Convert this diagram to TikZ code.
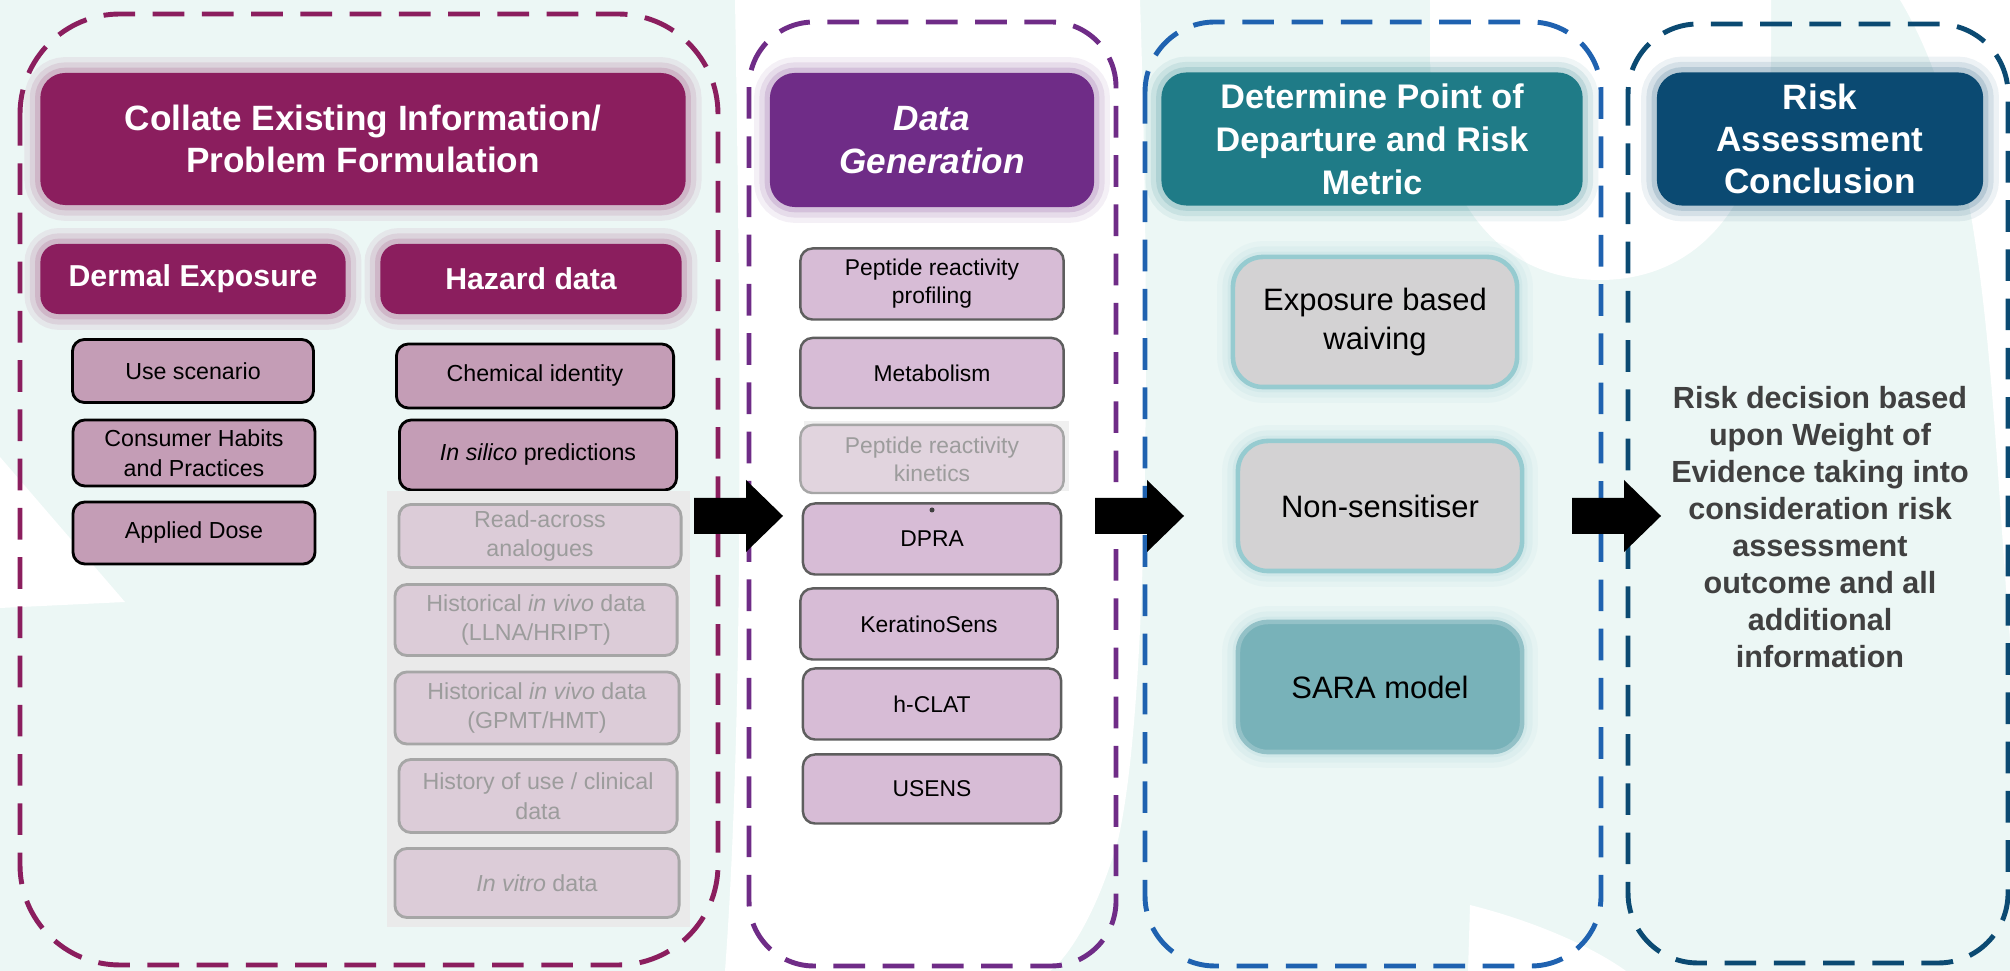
\documentclass[tikz,border=0pt]{standalone}
\usepackage{fontspec}
\setmainfont{Liberation Sans}
\usetikzlibrary{shapes,arrows}
\usetikzlibrary{calc}
\definecolor{mint}{HTML}{ECF7F5}
\definecolor{collate}{HTML}{8B1E5E}
\definecolor{datagen}{HTML}{6F2C87}
\definecolor{podteal}{HTML}{1F7B87}
\definecolor{podblue}{HTML}{1F62B0}
\definecolor{conclude}{HTML}{0B4A72}
\definecolor{itempink}{HTML}{C49DB6}
\definecolor{fadepink}{HTML}{DCCCD8}
\definecolor{fadegrey}{HTML}{A6A6A6}
\definecolor{fadetext}{HTML}{9C9C9C}
\definecolor{assaypink}{HTML}{D7BCD6}
\definecolor{assaygrey}{HTML}{5E5E5E}
\definecolor{metricgrey}{HTML}{D3D2D3}
\definecolor{metricrim}{HTML}{96CBD0}
\definecolor{saragreen}{HTML}{78B2B9}
\definecolor{darktext}{HTML}{404040}
\definecolor{panelgrey}{HTML}{EAEAEA}

\begin{document}
\begin{tikzpicture}[x=0.01cm,y=-0.01cm,
  panel/.style={rounded corners=#1,line width=1.4pt,dash pattern=on 9pt off 5pt},
  header/.style={rectangle,rounded corners=2.5mm,inner sep=0pt,align=center,text=white,
    font=\bfseries\fontsize{10}{12}\selectfont},
  glow/.style={preaction={draw=#1,draw opacity=0.07,line width=9pt},
    preaction={draw=#1,draw opacity=0.1,line width=6pt},
    preaction={draw=#1,draw opacity=0.15,line width=3pt}},
  subheader/.style={header,rounded corners=1.8mm,font=\bfseries\fontsize{8.6}{10}\selectfont},
  item/.style={rectangle,rounded corners=1.2mm,draw=black,line width=0.8pt,fill=itempink,
    inner sep=0pt,align=center,font=\fontsize{6.6}{8.4}\selectfont},
  faded/.style={item,draw=fadegrey,fill=fadepink,text=fadetext},
  assay/.style={item,draw=assaygrey,line width=0.7pt,fill=assaypink,
    font=\fontsize{6.5}{8}\selectfont},
  metric/.style={rectangle,rounded corners=3mm,inner sep=0pt,align=center,fill=metricgrey,
    draw=metricrim,line width=1.3pt,glow=metricrim,font=\fontsize{8.8}{11}\selectfont},
  ]
    \useasboundingbox (0,0) rectangle (2010,971);
    % Background
    \fill[mint] (0,0) rectangle (2010,971);
    \fill[white] (735,0) -- (1140,0) .. controls (1150,300) and (1150,700) .. (1118,840)
      .. controls (1095,920) and (1065,960) .. (1050,971) -- (725,971)
      .. controls (745,700) and (740,300) .. (735,0) -- cycle;
    \fill[white] (0,457) -- (125,602) -- (0,608) -- cycle;
    \fill[white] (1430,0) -- (1771,0) -- (1771,50) .. controls (1771,200) and (1700,280) .. (1600,280)
      .. controls (1500,280) and (1430,200) .. (1430,50) -- cycle;
    \fill[white] (1900,0) -- (2010,0) -- (2010,640) .. controls (1990,400) and (1990,150) .. (1900,0);
    \fill[white] (1470,905) .. controls (1530,920) and (1590,945) .. (1626,971) -- (1468,971) -- cycle;
    % Panels
    \draw[panel=1.0cm,draw=collate] (20,14) rectangle (718,965);
    \draw[panel=0.65cm,draw=datagen] (749,22) rectangle (1116,966);
    \draw[panel=0.7cm,draw=podblue] (1145,22) rectangle (1601,966);
    \draw[panel=0.7cm,draw=conclude] (1628,24) rectangle (2008,963);
    % Collate existing information
    \node[header,fill=collate,glow=collate,minimum width=6.45cm,minimum height=1.32cm]
      (collate) at (363,139) {Collate Existing Information/\\Problem Formulation};
    \node[subheader,fill=collate,glow=collate,minimum width=3.05cm,minimum height=0.7cm]
      (dermal) at (193,279) {Dermal Exposure};
    \node[subheader,fill=collate,glow=collate,minimum width=3.01cm,minimum height=0.7cm]
      (hazard) at (531,279) {Hazard data};
    \node[item,minimum width=2.41cm,minimum height=0.63cm] (use) at (193,371) {Use scenario};
    \node[item,minimum width=2.42cm,minimum height=0.66cm] (habits) at (194,453) {Consumer Habits\\and Practices};
    \node[item,minimum width=2.42cm,minimum height=0.62cm] (dose) at (194,533) {Applied Dose};
    \node[item,minimum width=2.77cm,minimum height=0.64cm] (chem) at (535,376) {Chemical identity};
    \node[item,minimum width=2.77cm,minimum height=0.70cm] (silico) at (538,455) {\textit{In silico} predictions};
    \fill[panelgrey] (387,491) rectangle (690,927);
    \node[faded,minimum width=2.82cm,minimum height=0.63cm] (readacross) at (540,536) {Read-across\\analogues};
    \node[faded,minimum width=2.82cm,minimum height=0.71cm] (llna) at (536,620) {Historical \textit{in vivo} data\\(LLNA/HRIPT)};
    \node[faded,minimum width=2.84cm,minimum height=0.72cm] (gpmt) at (537,708) {Historical \textit{in vivo} data\\(GPMT/HMT)};
    \node[faded,minimum width=2.78cm,minimum height=0.73cm] (history) at (538,796) {History of use / clinical\\data};
    \node[faded,minimum width=2.84cm,minimum height=0.69cm] (invitro) at (537,883) {\textit{In vitro} data};
    % Data generation
    \node[header,fill=datagen,glow=datagen,minimum width=3.24cm,minimum height=1.34cm,
      font=\bfseries\itshape\fontsize{10}{12.3}\selectfont] (datagen) at (932,140) {Data\\Generation};
    \node[assay,minimum width=2.63cm,minimum height=0.71cm] (profiling) at (932,284) {Peptide reactivity\\profiling};
    \node[assay,minimum width=2.63cm,minimum height=0.70cm] (metabolism) at (932,373) {Metabolism};
    \fill[panelgrey!70] (804,421) rectangle (1069,491);
    \node[assay,draw=fadegrey,fill=fadepink!85,text=fadetext,minimum width=2.63cm,minimum height=0.68cm]
      (kinetics) at (932,459) {Peptide reactivity\\kinetics};
    \node[assay,minimum width=2.58cm,minimum height=0.71cm] (dpra) at (932,539) {DPRA};
    \fill[black!75] (932,510) circle (2.5);
    \node[assay,minimum width=2.57cm,minimum height=0.71cm] (kerato) at (929,624) {KeratinoSens};
    \node[assay,minimum width=2.58cm,minimum height=0.71cm] (hclat) at (932,704) {h-CLAT};
    \node[assay,minimum width=2.58cm,minimum height=0.69cm] (usens) at (932,789) {USENS};
    % Point of departure
    \node[header,fill=podteal,glow=podteal,minimum width=4.21cm,minimum height=1.33cm,
      font=\bfseries\fontsize{9.7}{12.2}\selectfont] (pod) at (1372,139) {Determine Point of\\Departure and Risk\\Metric};
    \node[metric,minimum width=2.84cm,minimum height=1.30cm] (waiving) at (1375,322) {Exposure based\\waiving};
    \node[metric,minimum width=2.84cm,minimum height=1.30cm] (nonsens) at (1380,506) {Non-sensitiser};
    \node[metric,fill=saragreen,draw=saragreen!80,minimum width=2.84cm,minimum height=1.30cm] (sara) at (1380,687) {SARA model};
    % Conclusion
    \node[header,fill=conclude,glow=conclude,minimum width=3.26cm,minimum height=1.33cm]
      (conclude) at (1820,139) {Risk\\Assessment\\Conclusion};
    \node[text=darktext,align=center,font=\bfseries\fontsize{8.7}{10.5}\selectfont]
      (decision) at (1820,527) {Risk decision based\\upon Weight of\\Evidence taking into\\consideration risk\\assessment\\outcome and all\\additional\\information};
    % Arrows
    \foreach \s [count=\i] in {694,1095,1572}{
      \coordinate (arr\i) at (\s,516);
      \fill (arr\i) ++(0,-18) -- ++(52,0) -- ++(0,-18) -- ++(37,36) -- ++(-37,36)
        -- ++(0,-18) -- ++(-52,0) -- cycle;
    }
\end{tikzpicture}
\end{document}
